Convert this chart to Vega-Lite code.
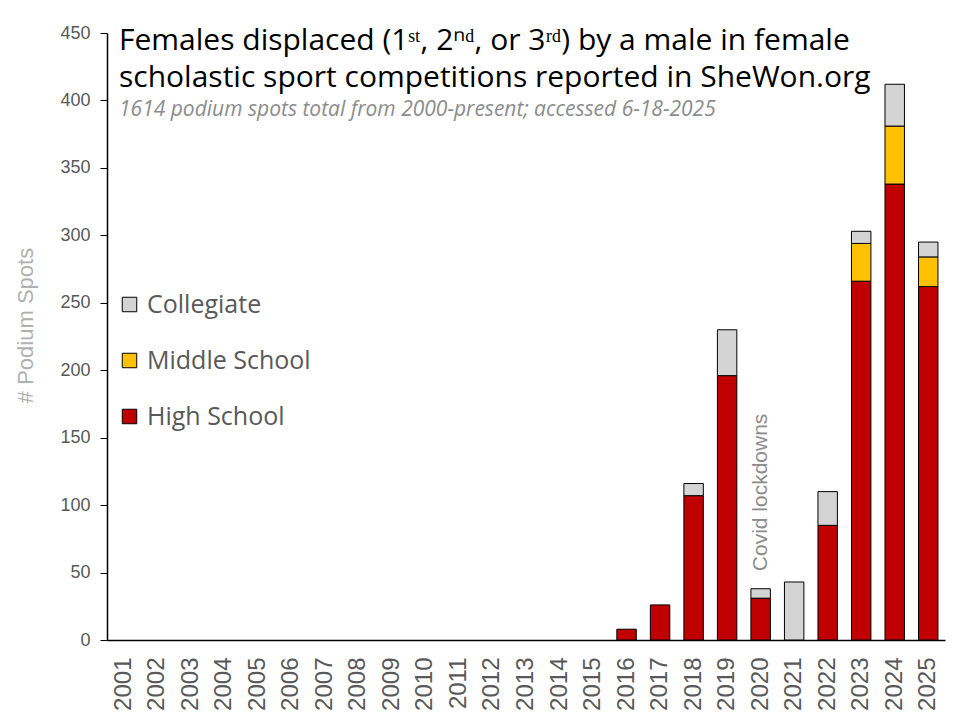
{
  "$schema": "https://vega.github.io/schema/vega-lite/v6.json",
  "width": 838,
  "height": 607,
  "autosize": "none",
  "padding": {"left": 107, "top": 33, "right": 15, "bottom": 80},
  "background": "white",
  "title": {
    "text": ["Females displaced (1ˢᵗ, 2ⁿᵈ, or 3ʳᵈ) by a male in female", "scholastic sport competitions reported in SheWon.org"],
    "subtitle": "1614 podium spots total from 2000-present; accessed 6-18-2025",
    "orient": "top",
    "anchor": "start",
    "frame": "group",
    "offset": -96,
    "dx": 12,
    "font": "Open Sans",
    "fontSize": 30,
    "fontWeight": "normal",
    "color": "#000000",
    "lineHeight": 37,
    "subtitleFont": "Open Sans",
    "subtitleFontSize": 21,
    "subtitleFontStyle": "italic",
    "subtitleColor": "#8C8C8C",
    "subtitlePadding": 6
  },
  "config": {
    "view": {"stroke": null},
    "axis": {"grid": false}
  },
  "layer": [
    {
      "data": {
        "values": [
          {"year": "2016", "level": "High School", "spots": 8},
          {"year": "2017", "level": "High School", "spots": 26},
          {"year": "2018", "level": "High School", "spots": 107},
          {"year": "2018", "level": "Collegiate", "spots": 9},
          {"year": "2019", "level": "High School", "spots": 196},
          {"year": "2019", "level": "Collegiate", "spots": 34},
          {"year": "2020", "level": "High School", "spots": 31},
          {"year": "2020", "level": "Collegiate", "spots": 7},
          {"year": "2021", "level": "Collegiate", "spots": 43},
          {"year": "2022", "level": "High School", "spots": 85},
          {"year": "2022", "level": "Collegiate", "spots": 25},
          {"year": "2023", "level": "High School", "spots": 266},
          {"year": "2023", "level": "Middle School", "spots": 28},
          {"year": "2023", "level": "Collegiate", "spots": 9},
          {"year": "2024", "level": "High School", "spots": 338},
          {"year": "2024", "level": "Middle School", "spots": 43},
          {"year": "2024", "level": "Collegiate", "spots": 31},
          {"year": "2025", "level": "High School", "spots": 262},
          {"year": "2025", "level": "Middle School", "spots": 22},
          {"year": "2025", "level": "Collegiate", "spots": 11}
        ]
      },
      "transform": [
        {"calculate": "indexof(['High School', 'Middle School', 'Collegiate'], datum.level)", "as": "stackRank"}
      ],
      "mark": {"type": "bar", "stroke": "#000000", "strokeWidth": 1},
      "encoding": {
        "x": {
          "field": "year",
          "type": "nominal",
          "scale": {
            "domain": ["2001", "2002", "2003", "2004", "2005", "2006", "2007", "2008", "2009", "2010", "2011", "2012", "2013", "2014", "2015", "2016", "2017", "2018", "2019", "2020", "2021", "2022", "2023", "2024", "2025"],
            "paddingInner": 0.42,
            "paddingOuter": 0.21
          },
          "axis": {
            "title": null,
            "labelAngle": 270,
            "labelAlign": "right",
            "labelBaseline": "middle",
            "labelFont": "Liberation Sans",
            "labelFontSize": 24,
            "labelColor": "#595959",
            "labelPadding": 17,
            "ticks": false,
            "domainColor": "#000000",
            "domainWidth": 1.5
          }
        },
        "y": {
          "field": "spots",
          "type": "quantitative",
          "aggregate": "sum",
          "stack": "zero",
          "scale": {"domain": [0, 450], "nice": false},
          "axis": {
            "title": "# Podium Spots",
            "titleFont": "Liberation Sans",
            "titleFontSize": 22,
            "titleFontWeight": "normal",
            "titleColor": "#B0B0B0",
            "titlePadding": 22,
            "titleY": 292,
            "values": [0, 50, 100, 150, 200, 250, 300, 350, 400, 450],
            "labelFont": "Liberation Sans",
            "labelFontSize": 18,
            "labelColor": "#595959",
            "labelPadding": 10,
            "tickSize": 7,
            "tickColor": "#000000",
            "domainColor": "#000000",
            "domainWidth": 1.5
          }
        },
        "color": {
          "field": "level",
          "type": "nominal",
          "sort": ["Collegiate", "Middle School", "High School"],
          "scale": {
            "domain": ["Collegiate", "Middle School", "High School"],
            "range": ["#D4D4D4", "#FFC000", "#C00000"]
          },
          "legend": {
            "title": null,
            "orient": "none",
            "legendX": 10,
            "legendY": 259,
            "symbolType": "square",
            "symbolSize": 210,
            "symbolStrokeColor": "#000000",
            "symbolStrokeWidth": 1,
            "symbolOpacity": 1,
            "labelFont": "Open Sans",
            "labelFontSize": 25,
            "labelColor": "#595959",
            "labelOffset": 5,
            "labelLimit": 400,
            "rowPadding": 30
          }
        },
        "order": {"field": "stackRank", "type": "quantitative"}
      }
    },
    {
      "data": {"values": [{"year": "2020", "spots": 51, "note": "Covid lockdowns"}]},
      "mark": {
        "type": "text",
        "angle": 270,
        "align": "left",
        "baseline": "middle",
        "font": "Liberation Sans",
        "fontSize": 21,
        "color": "#8C8C8C"
      },
      "encoding": {
        "x": {"field": "year", "type": "nominal"},
        "y": {"field": "spots", "type": "quantitative"},
        "text": {"field": "note"}
      }
    }
  ]
}
